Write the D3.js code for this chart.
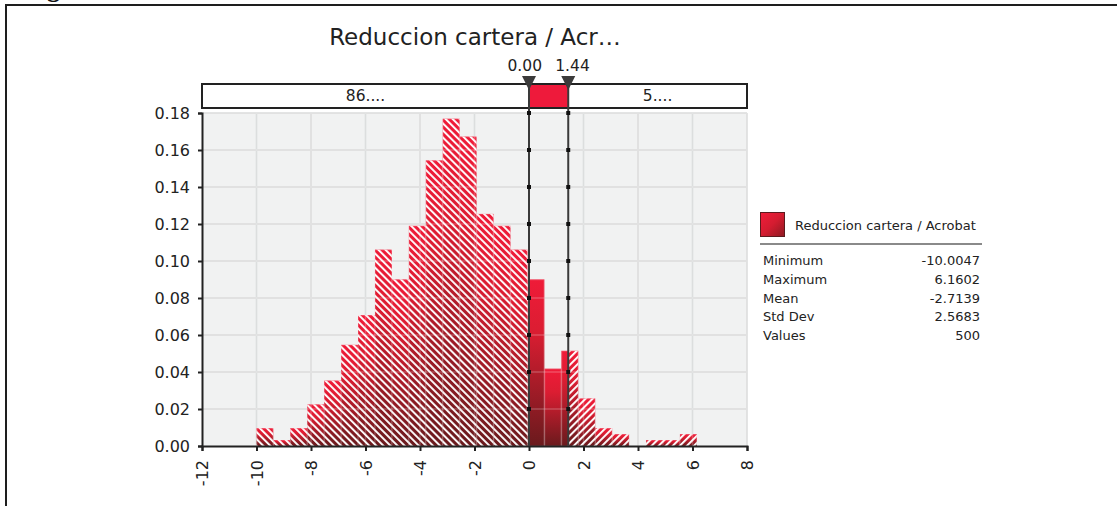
<!DOCTYPE html>
<html>
<head>
<meta charset="utf-8">
<script src="https://cdn.jsdelivr.net/npm/d3@7"></script>
<style>
  body { margin: 0; background: #fff; }
  svg { display: block; font-family: "DejaVu Sans", Verdana, sans-serif; }
</style>
</head>
<body>
<div id="chart"></div>
<script>
// values
const titleText = "Reduccion cartera / Acr\u2026";
const seriesName = "Reduccion cartera / Acrobat";
const binMin = -10.0047;
const binMax = 6.1602;
const binCounts = [3, 1, 3, 7, 11, 17, 22, 33, 28, 37, 48, 55, 52, 39, 37, 33, 28, 13, 16, 8, 3, 2, 0, 1, 1, 2];
const totalValues = 500;
const delimiters = [0.00, 1.44];
const bandLabels = ["86....", "5...."];
const xTicks = [-12, -10, -8, -6, -4, -2, 0, 2, 4, 6, 8];
const yTicks = [0, 0.02, 0.04, 0.06, 0.08, 0.10, 0.12, 0.14, 0.16, 0.18];
const statLabels = ["Minimum", "Maximum", "Mean", "Std Dev", "Values"];
const statValues = ["-10.0047", "6.1602", "-2.7139", "2.5683", "500"];

const W = 1117, H = 506;
const plot = { left: 202, right: 747, top: 113, bottom: 446 };

const svg = d3.select("#chart").append("svg")
    .attr("width", W)
    .attr("height", H);

const defs = svg.append("defs");

// bar gradient, bright red on top to dark maroon at the base
const grad = defs.append("linearGradient")
    .attr("id", "barGrad")
    .attr("x1", 0).attr("y1", 0).attr("x2", 0).attr("y2", 1);
grad.append("stop").attr("offset", 0).attr("stop-color", "#ef1b38");
grad.append("stop").attr("offset", 0.3).attr("stop-color", "#dc1d32");
grad.append("stop").attr("offset", 1).attr("stop-color", "#6a1a1d");

const swatchGrad = defs.append("linearGradient")
    .attr("id", "swatchGrad")
    .attr("x1", 0).attr("y1", 0).attr("x2", 1).attr("y2", 1);
swatchGrad.append("stop").attr("offset", 0).attr("stop-color", "#f11d3b");
swatchGrad.append("stop").attr("offset", 0.5).attr("stop-color", "#d41c30");
swatchGrad.append("stop").attr("offset", 1).attr("stop-color", "#8d1a22");

// white hatching, "\" left of the first delimiter, "/" right of the second
function hatch(id, angle) {
    const p = defs.append("pattern")
        .attr("id", id)
        .attr("patternUnits", "userSpaceOnUse")
        .attr("width", 5)
        .attr("height", 5)
        .attr("patternTransform", `rotate(${angle})`);
    p.append("rect")
        .attr("width", 1.9)
        .attr("height", 5)
        .attr("fill", "#fff");
}
hatch("hatchBack", -45);
hatch("hatchFwd", 45);

// scales
const x = d3.scaleLinear().domain([-12, 8]).range([plot.left, plot.right]);
const y = d3.scaleLinear().domain([0, 0.18]).range([plot.bottom, plot.top]);

// bins -> density
const binW = (binMax - binMin) / binCounts.length;
const bins = binCounts.map((c, i) => ({
    x0: binMin + i * binW,
    x1: binMin + (i + 1) * binW,
    density: c / (totalValues * binW)
})).filter(d => d.density > 0);

// clip regions split at the delimiters
const clips = [
    { id: "clipLeft", x0: plot.left, x1: x(delimiters[0]) },
    { id: "clipMid", x0: x(delimiters[0]), x1: x(delimiters[1]) },
    { id: "clipRight", x0: x(delimiters[1]), x1: plot.right }
];
clips.forEach(c => {
    defs.append("clipPath").attr("id", c.id)
        .append("rect")
        .attr("x", c.x0).attr("y", plot.top)
        .attr("width", c.x1 - c.x0).attr("height", plot.bottom - plot.top);
});

// outer frame and cut off caption above it
svg.append("text")
    .attr("x", 24).attr("y", -3)
    .style("font-family", "'Liberation Serif', serif")
    .style("font-weight", "bold")
    .style("font-size", "26px")
    .attr("fill", "#111")
    .text("Fig");
svg.append("path")
    .attr("d", `M6,${H} V5 H${W}`)
    .attr("fill", "none")
    .attr("stroke", "#1e1e1e")
    .attr("stroke-width", 2);

// title
svg.append("text")
    .attr("x", 475).attr("y", 45)
    .attr("text-anchor", "middle")
    .style("font-size", "23px")
    .attr("fill", "#222")
    .text(titleText);

// plot background + grid
svg.append("rect")
    .attr("x", plot.left).attr("y", plot.top)
    .attr("width", plot.right - plot.left).attr("height", plot.bottom - plot.top)
    .attr("fill", "#f1f2f2");

function grid(stroke, opacity) {
    const g = svg.append("g")
        .attr("stroke", stroke)
        .attr("stroke-opacity", opacity)
        .attr("stroke-width", 1.5);
    g.selectAll(".gx").data(xTicks.slice(1)).enter().append("line")
        .attr("x1", d => x(d)).attr("x2", d => x(d))
        .attr("y1", plot.top).attr("y2", plot.bottom);
    g.selectAll(".gy").data(yTicks.slice(1)).enter().append("line")
        .attr("x1", plot.left).attr("x2", plot.right)
        .attr("y1", d => y(d)).attr("y2", d => y(d));
}
grid("#d3d5d5", 1);

// bars, drawn once per region
clips.forEach((c, i) => {
    const g = svg.append("g").attr("clip-path", `url(#${c.id})`);
    const layers = ["url(#barGrad)"];
    if (i === 0) layers.push("url(#hatchBack)");
    if (i === 2) layers.push("url(#hatchFwd)");
    layers.forEach(fill => {
        g.selectAll(null)
            .data(bins)
            .enter()
            .append("rect")
            .attr("x", d => x(d.x0))
            .attr("width", d => x(d.x1) - x(d.x0))
            .attr("y", d => y(d.density))
            .attr("height", d => y(0) - y(d.density))
            .attr("fill", fill);
    });
    g.selectAll(null)
        .data(bins)
        .enter()
        .append("rect")
        .attr("x", d => x(d.x0) + 0.5)
        .attr("width", d => x(d.x1) - x(d.x0) - 1)
        .attr("y", d => y(d.density) + 0.5)
        .attr("height", d => y(0) - y(d.density) - 0.5)
        .attr("fill", "none")
        .attr("stroke", "#fff")
        .attr("stroke-opacity", 0.15);
});

grid("#ffffff", 0.22);

// axes
const yAxis = d3.axisLeft(y)
    .tickValues(yTicks)
    .tickFormat(d3.format(".2f"))
    .tickSize(4)
    .tickPadding(8);
svg.append("g")
    .attr("transform", `translate(${plot.left},0)`)
    .call(yAxis)
    .call(g => {
        g.select(".domain").attr("stroke", "#222").attr("stroke-width", 2);
        g.selectAll(".tick line").attr("stroke", "#222").attr("stroke-width", 2);
        g.selectAll("text")
            .attr("fill", "#222")
            .style("font-size", "16px")
            .style("font-family", "'DejaVu Sans', Verdana, sans-serif");
    });

const xAxis = d3.axisBottom(x)
    .tickValues(xTicks)
    .tickFormat(d => String(d))
    .tickSize(5);
svg.append("g")
    .attr("transform", `translate(0,${plot.bottom})`)
    .call(xAxis)
    .call(g => {
        g.select(".domain").attr("stroke", "#222").attr("stroke-width", 2);
        g.selectAll(".tick line").attr("stroke", "#222").attr("stroke-width", 2);
        g.selectAll("text")
            .attr("fill", "#222")
            .attr("transform", "rotate(-90)")
            .attr("x", -14)
            .attr("y", 0)
            .attr("dy", "0.35em")
            .style("text-anchor", "end")
            .style("font-size", "16px")
            .style("font-family", "'DejaVu Sans', Verdana, sans-serif");
    });

// delimiter strip above the plot
const strip = { top: 84, bottom: 108 };
svg.append("rect")
    .attr("x", plot.left).attr("y", strip.top)
    .attr("width", plot.right - plot.left).attr("height", strip.bottom - strip.top)
    .attr("fill", "#fff")
    .attr("stroke", "#222")
    .attr("stroke-width", 2);
svg.append("rect")
    .attr("x", x(delimiters[0])).attr("y", strip.top + 1)
    .attr("width", x(delimiters[1]) - x(delimiters[0]))
    .attr("height", strip.bottom - strip.top - 2)
    .attr("fill", "#ee1a3b");

svg.append("text")
    .attr("x", (plot.left + x(delimiters[0])) / 2).attr("y", 101)
    .attr("text-anchor", "middle")
    .style("font-size", "15.5px")
    .attr("fill", "#222")
    .text(bandLabels[0]);
svg.append("text")
    .attr("x", (x(delimiters[1]) + plot.right) / 2).attr("y", 101)
    .attr("text-anchor", "middle")
    .style("font-size", "15.5px")
    .attr("fill", "#222")
    .text(bandLabels[1]);

// delimiter lines, markers and values
const dl = svg.append("g");
dl.selectAll("line")
    .data(delimiters)
    .enter()
    .append("line")
    .attr("x1", d => x(d)).attr("x2", d => x(d))
    .attr("y1", strip.top).attr("y2", plot.bottom)
    .attr("stroke", "#3a3a3a")
    .attr("stroke-width", 2);

delimiters.forEach(dv => {
    dl.selectAll(null)
        .data(yTicks.slice(1))
        .enter()
        .append("rect")
        .attr("x", x(dv) - 2).attr("y", d => y(d) - 2)
        .attr("width", 4).attr("height", 4)
        .attr("fill", "#111");
});

dl.selectAll("path")
    .data(delimiters)
    .enter()
    .append("path")
    .attr("d", d => `M${x(d) - 7},76 L${x(d) + 7},76 L${x(d)},90 Z`)
    .attr("fill", "#3b3b3b");

dl.selectAll("text")
    .data(delimiters)
    .enter()
    .append("text")
    .attr("x", (d, i) => i === 0 ? x(d) + 13 : x(d) - 13)
    .attr("y", 71)
    .attr("text-anchor", (d, i) => i === 0 ? "end" : "start")
    .style("font-size", "15.5px")
    .attr("fill", "#222")
    .text(d => d.toFixed(2));

// legend + statistics
const lg = svg.append("g");
lg.append("rect")
    .attr("x", 760.5).attr("y", 212.5)
    .attr("width", 24).attr("height", 24)
    .attr("fill", "url(#swatchGrad)")
    .attr("stroke", "#5c1a1e")
    .attr("stroke-width", 1);
lg.append("text")
    .attr("x", 795).attr("y", 230)
    .style("font-size", "13px")
    .attr("fill", "#222")
    .text(seriesName);
lg.append("line")
    .attr("x1", 760).attr("x2", 982)
    .attr("y1", 244).attr("y2", 244)
    .attr("stroke", "#8a8a8a")
    .attr("stroke-width", 2);

lg.selectAll(".stat-label")
    .data(statLabels)
    .enter()
    .append("text")
    .attr("class", "stat-label")
    .attr("x", 763)
    .attr("y", (d, i) => 265 + i * 18.8)
    .style("font-size", "13px")
    .attr("fill", "#222")
    .text(d => d);

lg.selectAll(".stat-value")
    .data(statValues)
    .enter()
    .append("text")
    .attr("class", "stat-value")
    .attr("x", 980)
    .attr("y", (d, i) => 265 + i * 18.8)
    .attr("text-anchor", "end")
    .style("font-size", "13px")
    .attr("fill", "#222")
    .text(d => d);
</script>
</body>
</html>
